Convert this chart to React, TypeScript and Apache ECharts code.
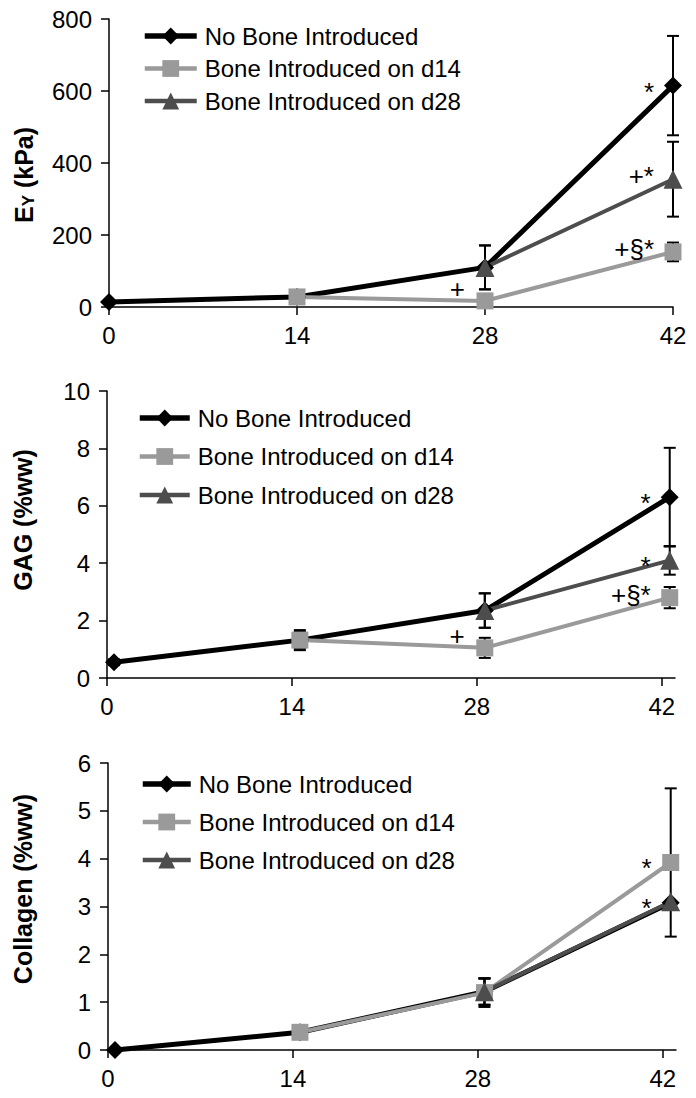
import React, { useEffect, useRef } from "react";
import * as echarts from "echarts";

// ---------- DATA ----------
const seriesNames = ["No Bone Introduced", "Bone Introduced on d14", "Bone Introduced on d28"];
const xTickValues = [0, 14, 28, 42];

// Panel 1: E_Y (kPa)
const eyDays = [0, 14, 28, 42];
const eyNoBone = [14, 28, 110, 615];
const eyNoBoneErr = [5, 8, 61, 138];
const eyD14 = [null, 28, 17, 153];
const eyD14Err = [null, 8, 10, 26];
const eyD28 = [null, null, 110, 355];
const eyD28Err = [null, null, 61, 104];
// [series index, point index, text]
const eyNotes: [number, number, string][] = [
  [0, 3, "*"],
  [2, 3, "+*"],
  [1, 3, "+§*"],
  [1, 2, "+"],
];

// Panel 2: GAG (%ww)
const gagDays = [0.53, 14.6, 28.6, 42.6];
const gagNoBone = [0.55, 1.32, 2.35, 6.3];
const gagNoBoneErr = [0.1, 0.3, 0.6, 1.72];
const gagD14 = [null, 1.32, 1.05, 2.8];
const gagD14Err = [null, 0.35, 0.35, 0.37];
const gagD28 = [null, null, 2.35, 4.1];
const gagD28Err = [null, null, 0.6, 0.5];
const gagNotes: [number, number, string][] = [
  [0, 3, "*"],
  [2, 3, "*"],
  [1, 3, "+§*"],
  [1, 2, "+"],
];

// Panel 3: Collagen (%ww)
const colDays = [0.53, 14.53, 28.5, 42.6];
const colNoBone = [0, 0.37, 1.22, 3.08];
const colNoBoneErr = [0.02, 0.03, 0.28, null];
const colD14 = [null, 0.37, 1.2, 3.92];
const colD14Err = [null, 0.03, 0.3, 1.55];
const colD28 = [null, null, 1.22, 3.1];
const colD28Err = [null, null, 0.27, null];
const colNotes: [number, number, string][] = [
  [1, 3, "*"],
  [2, 3, "*"],
];

// ---------- STYLE / LAYOUT ----------
const FONT = "'Liberation Sans', Arial, Helvetica, sans-serif";
const colors = ["#000000", "#9a9a9a", "#4d4d4d"];
const lineWidths = [5, 4, 4];
const symbols = ["diamond", "rect", "triangle"];
const symbolSizes = [18, 17, 19];

const panels = [
  {
    days: eyDays,
    values: [eyNoBone, eyD14, eyD28],
    errs: [eyNoBoneErr, eyD14Err, eyD28Err],
    notes: eyNotes,
    yMax: 800,
    yInterval: 200,
    xMax: 42,
    grid: { left: 109, top: 19, width: 564, height: 288 },
    legend: { left: 137, top: 19, itemWidth: 52, itemGap: 8.5 },
    title: { x: 24, y: 175, text: "{e|E}{s|Y}{e| (kPa)}" },
  },
  {
    days: gagDays,
    values: [gagNoBone, gagD14, gagD28],
    errs: [gagNoBoneErr, gagD14Err, gagD28Err],
    notes: gagNotes,
    yMax: 10,
    yInterval: 2,
    xMax: 43,
    grid: { left: 107, top: 391, width: 568, height: 287 },
    legend: { left: 132, top: 401, itemWidth: 50, itemGap: 14.5 },
    title: { x: 23, y: 520, text: "{e|GAG (%ww)}" },
  },
  {
    days: colDays,
    values: [colNoBone, colD14, colD28],
    errs: [colNoBoneErr, colD14Err, colD28Err],
    notes: colNotes,
    yMax: 6,
    yInterval: 1,
    xMax: 43,
    grid: { left: 108, top: 763, width: 568, height: 287 },
    legend: { left: 135, top: 767, itemWidth: 48, itemGap: 14 },
    title: { x: 23, y: 889, text: "{e|Collagen (%ww)}" },
  },
];

function buildOption() {
  const grid: any[] = [];
  const xAxis: any[] = [];
  const yAxis: any[] = [];
  const legend: any[] = [];
  const series: any[] = [];
  const graphic: any[] = [];

  panels.forEach((p, pi) => {
    grid.push({ ...p.grid, containLabel: false });
    xAxis.push({
      type: "value",
      gridIndex: pi,
      min: 0,
      max: p.xMax,
      interval: 14,
      axisLine: { show: true, lineStyle: { color: "#000", width: 1.5 } },
      axisTick: { show: true, length: 8, lineStyle: { color: "#000", width: 1.5 }, customValues: xTickValues },
      axisLabel: { color: "#000", fontSize: 24, fontFamily: FONT, margin: 16, customValues: xTickValues },
      splitLine: { show: false },
    });
    yAxis.push({
      type: "value",
      gridIndex: pi,
      min: 0,
      max: p.yMax,
      interval: p.yInterval,
      axisLine: { show: true, lineStyle: { color: "#000", width: 1.5 } },
      axisTick: { show: true, length: 8, lineStyle: { color: "#000", width: 1.5 } },
      axisLabel: { color: "#000", fontSize: 24, fontFamily: FONT, margin: 17 },
      splitLine: { show: false },
    });
    legend.push({
      left: p.legend.left,
      top: p.legend.top,
      orient: "vertical",
      itemWidth: p.legend.itemWidth,
      itemHeight: 21,
      itemGap: p.legend.itemGap,
      data: seriesNames.map((name, si) => ({
        name,
        lineStyle: { width: lineWidths[si] + 0.5, color: colors[si], cap: "butt" },
      })),
      selectedMode: false,
      textStyle: { fontSize: 24, color: "#000", fontFamily: FONT, padding: [0, 0, 0, 3] },
    });

    // error bars (drawn beneath the lines)
    p.values.forEach((vals, si) => {
      const errData: number[][] = [];
      vals.forEach((v, i) => {
        const e = p.errs[si][i];
        if (v != null && e != null) errData.push([p.days[i], v - e, v + e]);
      });
      series.push({
        type: "custom",
        xAxisIndex: pi,
        yAxisIndex: pi,
        silent: true,
        z: 1,
        data: errData,
        encode: { x: 0, y: [1, 2] },
        renderItem: (params: any, api: any) => {
          const x = api.value(0);
          const top = api.coord([x, api.value(2)]);
          const bot = api.coord([x, api.value(1)]);
          const w = 6;
          const st = { stroke: "#000", lineWidth: 2 };
          return {
            type: "group",
            children: [
              { type: "line", shape: { x1: top[0], y1: top[1], x2: bot[0], y2: bot[1] }, style: st },
              { type: "line", shape: { x1: top[0] - w, y1: top[1], x2: top[0] + w, y2: top[1] }, style: st },
              { type: "line", shape: { x1: bot[0] - w, y1: bot[1], x2: bot[0] + w, y2: bot[1] }, style: st },
            ],
          };
        },
      });
    });

    // lines
    p.values.forEach((vals, si) => {
      const data: number[][] = [];
      vals.forEach((v, i) => {
        if (v != null) data.push([p.days[i], v]);
      });
      series.push({
        type: "line",
        name: seriesNames[si],
        xAxisIndex: pi,
        yAxisIndex: pi,
        data,
        z: 2,
        symbol: symbols[si],
        symbolSize: symbolSizes[si],
        showAllSymbol: true,
        color: colors[si],
        itemStyle: { color: colors[si], opacity: 1 },
        lineStyle: { color: colors[si], width: lineWidths[si], cap: "round" },
      });
    });

    // annotations
    const noteData = p.notes.map(([si, i]) => [p.days[i], p.values[si][i] as number]);
    series.push({
      type: "custom",
      xAxisIndex: pi,
      yAxisIndex: pi,
      silent: true,
      z: 5,
      data: noteData,
      encode: { x: 0, y: 1 },
      renderItem: (params: any, api: any) => {
        const pt = api.coord([api.value(0), api.value(1)]);
        const note = p.notes[params.dataIndex];
        const text = note[2];
        const upLeft = text === "+";
        const dx = upLeft ? -20 : -19;
        const dy = upLeft ? -12 : text === "*" ? 6 : -3;
        return {
          type: "text",
          x: pt[0] + dx,
          y: pt[1] + dy,
          style: {
            text,
            align: "right",
            verticalAlign: "middle",
            fontSize: 26,
            fontFamily: FONT,
            fill: "#000",
          },
        };
      },
    });

    graphic.push({
      type: "text",
      x: p.title.x,
      y: p.title.y,
      rotation: Math.PI / 2,
      style: {
        text: p.title.text,
        align: "center",
        verticalAlign: "middle",
        fill: "#000",
        rich: {
          e: { fontSize: 25, fontWeight: "bold", fontFamily: FONT, fill: "#000" },
          s: { fontSize: 17, fontWeight: "bold", fontFamily: FONT, fill: "#000", verticalAlign: "bottom" },
        },
      },
    });
  });

  return {
    animation: false,
    backgroundColor: "#fff",
    grid,
    xAxis,
    yAxis,
    legend,
    series,
    graphic,
  };
}

export default function App() {
  const ref = useRef<HTMLDivElement>(null);
  useEffect(() => {
    document.body.style.margin = "0";
    if (!ref.current) return;
    const chart = echarts.init(ref.current, undefined, { renderer: "svg" });
    chart.setOption(buildOption() as any);
    return () => chart.dispose();
  }, []);
  return <div ref={ref} style={{ width: 696, height: 1098, background: "#fff" }} />;
}
